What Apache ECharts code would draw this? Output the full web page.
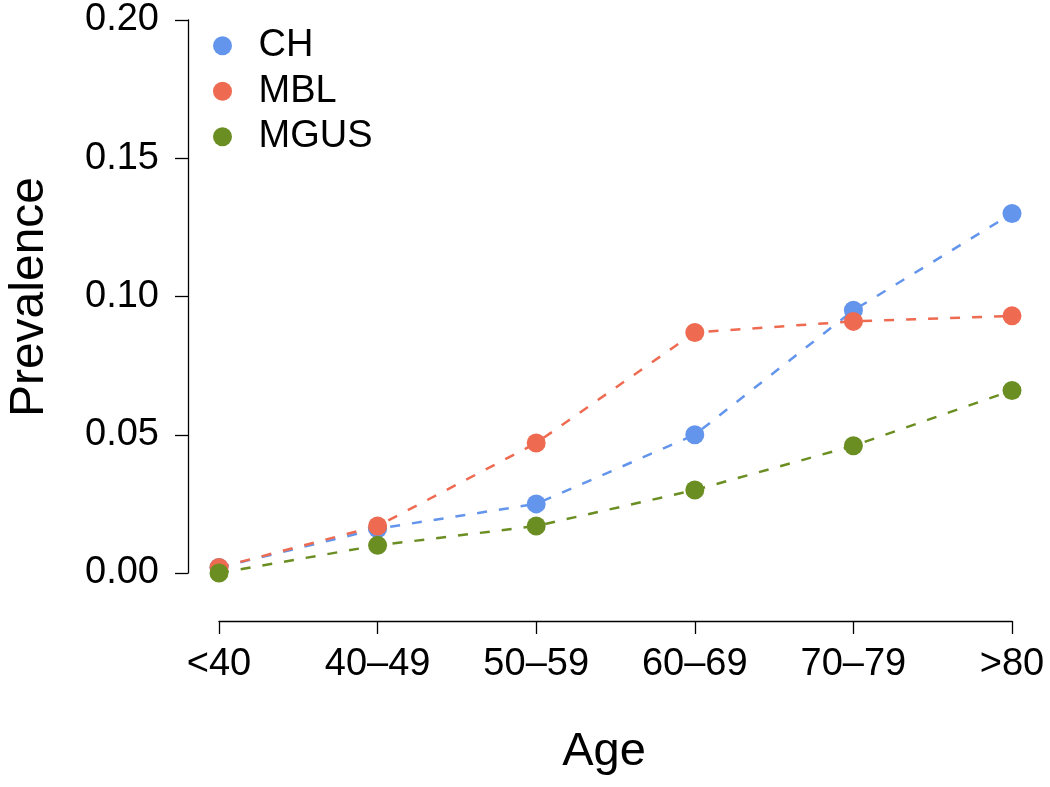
<!DOCTYPE html>
<html>
<head>
<meta charset="utf-8">
<script src="https://cdn.jsdelivr.net/npm/echarts@6/dist/echarts.min.js"></script>
<style>
html,body{margin:0;padding:0;background:#fff;}
#chart{width:1050px;height:787px;}
</style>
</head>
<body>
<div id="chart"></div>
<script>
var categories = ['<40', '40\u201349', '50\u201359', '60\u201369', '70\u201379', '>80'];
var seriesNames = ['CH', 'MBL', 'MGUS'];
var chValues = [0.002, 0.016, 0.025, 0.050, 0.095, 0.130];
var mblValues = [0.002, 0.017, 0.047, 0.087, 0.091, 0.093];
var mgusValues = [0.000, 0.010, 0.017, 0.030, 0.046, 0.066];
var yTicks = [0, 0.05, 0.10, 0.15, 0.20];
var colors = ['#6495ED', '#EE6A50', '#6B8E23'];

var FONT = '"Liberation Sans", Arial, Helvetica, sans-serif';
var chart = echarts.init(document.getElementById('chart'), null, {renderer: 'canvas'});

function mkSeries(name, data, color) {
  return {
    name: name,
    type: 'line',
    data: data,
    symbol: 'circle',
    symbolSize: 19,
    showAllSymbol: true,
    animation: false,
    itemStyle: {color: color, opacity: 1},
    lineStyle: {color: color, width: 2.5, type: [10, 12]},
    emphasis: {disabled: true}
  };
}

var option = {
  backgroundColor: '#ffffff',
  animation: false,
  grid: {left: 219, right: 38, top: 20, bottom: 214, containLabel: false},
  legend: {
    data: seriesNames.map(function (n, i) { return {name: n, icon: 'circle', itemStyle: {color: colors[i]}}; }),
    orient: 'vertical',
    left: 208,
    top: 18,
    itemWidth: 62,
    itemHeight: 19,
    itemGap: 0,
    textStyle: {fontFamily: FONT, fontSize: 38, color: '#000', lineHeight: 45.5, padding: [0, 0, 0, 0]},
    selectedMode: false
  },
  xAxis: {
    type: 'category',
    data: categories,
    boundaryGap: false,
    offset: 48,
    axisLine: {show: true, onZero: false, lineStyle: {color: '#000', width: 1.3}},
    axisTick: {show: true, length: 13, lineStyle: {color: '#000', width: 1.3}},
    axisLabel: {fontFamily: FONT, fontSize: 38, color: '#000', margin: 25, interval: 0},
    splitLine: {show: false}
  },
  yAxis: {
    type: 'value',
    min: yTicks[0],
    max: yTicks[yTicks.length - 1],
    interval: 0.05,
    offset: 31,
    axisLine: {show: true, lineStyle: {color: '#000', width: 1.3}},
    axisTick: {show: true, length: 13, lineStyle: {color: '#000', width: 1.3}},
    axisLabel: {fontFamily: FONT, fontSize: 38, color: '#000', margin: 29,
      formatter: function (v) { return v.toFixed(2); }},
    splitLine: {show: false}
  },
  graphic: [
    {type: 'text', x: 604, y: 752, style: {text: 'Age', font: '47px ' + FONT, fill: '#000', textAlign: 'center', textVerticalAlign: 'middle'}},
    {type: 'text', x: 30, y: 297, rotation: Math.PI / 2, style: {text: 'Prevalence', font: '48px ' + FONT, fill: '#000', textAlign: 'center', textVerticalAlign: 'middle'}}
  ],
  series: [
    mkSeries(seriesNames[0], chValues, colors[0]),
    mkSeries(seriesNames[1], mblValues, colors[1]),
    mkSeries(seriesNames[2], mgusValues, colors[2])
  ]
};
chart.setOption(option);
</script>
</body>
</html>
